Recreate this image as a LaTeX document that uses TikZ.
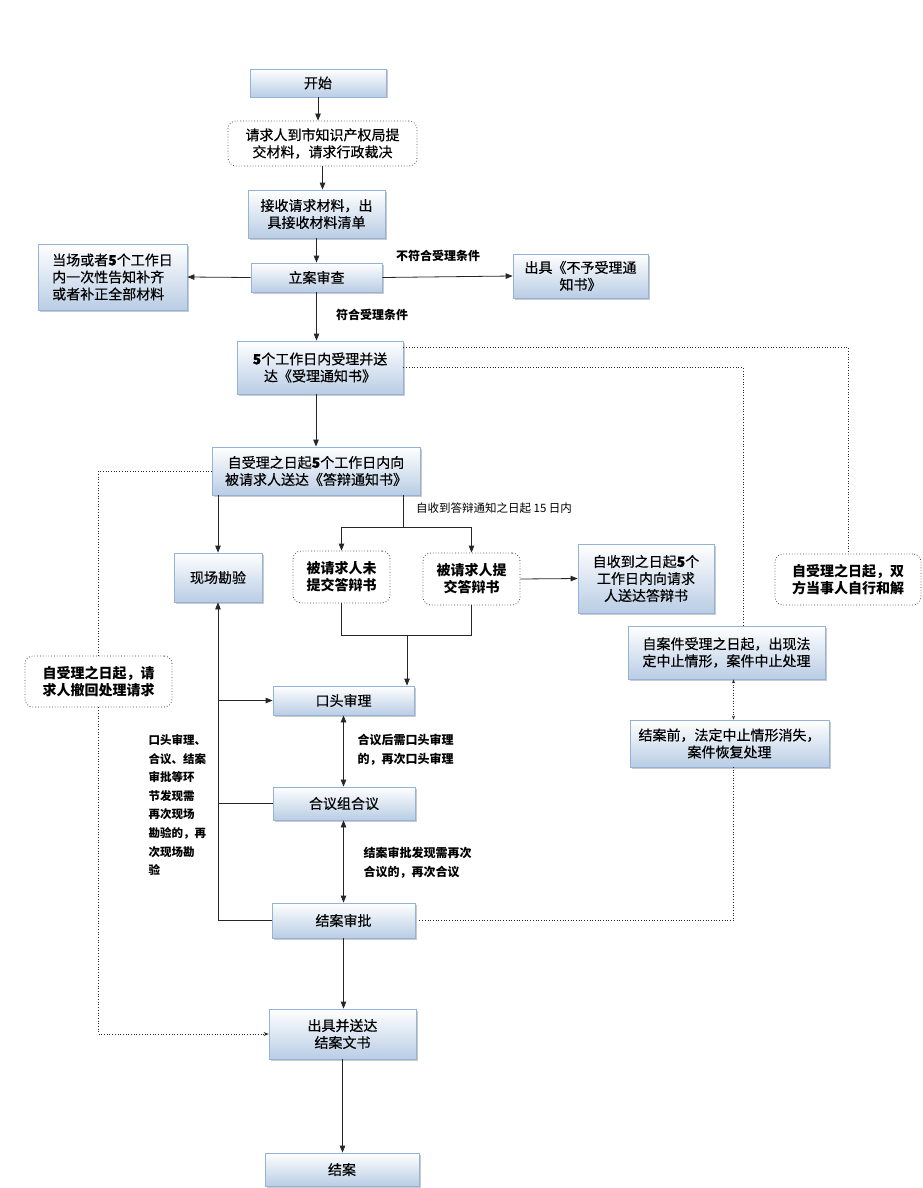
\documentclass[tikz,border=0pt]{standalone}
\usepackage{fontspec}
\setmainfont{Noto Sans CJK SC}
\newfontfamily\boxfam{Noto Sans CJK SC}[FakeBold=0.4]
\usetikzlibrary{shadows,arrows.meta}

\definecolor{boxBlue}{HTML}{B9CDE5}
\definecolor{boxEdge}{HTML}{95B3D7}

\begin{document}
\begin{tikzpicture}[
    x=1pt, y=-1pt,
    box/.style={draw=boxEdge, line width=0.8pt, top color=white,
                bottom color=boxBlue, align=center, inner sep=2pt,
                font=\boxfam\fontsize{14}{17}\selectfont,
                drop shadow={shadow xshift=1.5pt, shadow yshift=-1.5pt,
                             fill=black!35, opacity=0.6}},
    note/.style={draw=black!70, dotted, line width=0.8pt, rounded corners=8pt,
                 fill=white, align=center, inner sep=2pt,
                 font=\boxfam\fontsize{14}{17}\selectfont},
    arr/.style={->, >={Triangle[length=7pt, width=5.5pt]}, line width=0.8pt, black!85},
    dots/.style={dotted, line width=0.7pt, black!85},
    lbl/.style={font=\fontsize{12}{18.5}\selectfont\bfseries, align=left},
]
\useasboundingbox (0,0) rectangle (923,1188);

% --- main column, top ---
\node[box, minimum width=136pt, minimum height=28pt]
    (start) at (318,83) {开始};
\node[note, minimum width=189pt, minimum height=45pt]
    (req) at (322.5,143.5) {请求人到市知识产权局提\\交材料，请求行政裁决};
\node[box, minimum width=137pt, minimum height=48pt]
    (recv) at (316.5,214) {接收请求材料，出\\具接收材料清单};
\node[box, minimum width=131pt, minimum height=29pt]
    (check) at (316.5,277.5) {立案审查};
\node[box, minimum width=149pt, minimum height=66pt, align=left]
    (notify) at (112.5,277) {当场或者\textbf{5}个工作日\\内一次性告知补齐\\或者补正全部材料};
\node[box, minimum width=135pt, minimum height=44pt]
    (reject) at (580.5,276) {出具《不予受理通\\知书》};
\node[box, minimum width=166pt, minimum height=53pt]
    (accept) at (320,367.5) {\textbf{5}个工作日内受理并送\\达《受理通知书》};
\node[box, minimum width=208pt, minimum height=48pt]
    (reply) at (316,471) {自受理之日起\textbf{5}个工作日内向\\被请求人送达《答辩通知书》};

\draw[arr] (start.south) -- (start.south |- req.north);
\draw[arr] (req.south) -- (req.south |- recv.north);
\draw[arr] (recv.south) -- (recv.south |- check.north);
\draw[arr] (check.west) -- (notify.east);
\draw[arr] (check.east) -- (reject.west);
\draw[arr] (check.south) -- (check.south |- accept.north);
\draw[arr] (reply.north |- accept.south) -- (reply.north);

\node[lbl] (nocond) at (438,256) {不符合受理条件};
\node[lbl] (cond) at (372,315) {符合受理条件};

% --- reply stage ---
\node[box, minimum width=88pt, minimum height=49pt]
    (survey) at (218,577.5) {现场勘验};
\node[note, minimum width=97pt, minimum height=52pt, font=\fontsize{14}{17}\selectfont\bfseries]
    (nosub) at (341.5,577) {被请求人未\\提交答辩书};
\node[note, minimum width=97pt, minimum height=52pt, font=\fontsize{14}{17}\selectfont\bfseries]
    (sub) at (471.5,579) {被请求人提\\交答辩书};
\node[box, minimum width=136pt, minimum height=69pt]
    (send) at (646,578.5) {自收到之日起\textbf{5}个\\工作日内向请求\\人送达答辩书};

\node[font=\fontsize{11.5}{14}\selectfont] (days) at (494,508) {自收到答辩通知之日起 15 日内};

\coordinate (split) at (403,527);
\coordinate (join) at (407,635);
\draw[line width=0.8pt, black!85] (reply.south -| split) -- (split);
\draw[arr] (split) -| (nosub.north);
\draw[arr] (split) -| (sub.north);
\draw[arr] (reply.south -| survey.north) -- (survey.north);
\draw[arr] (sub.east) -- (send.west);

% --- hearing and approval ---
\node[box, minimum width=141pt, minimum height=29pt]
    (hearing) at (343.5,700.5) {口头审理};
\node[box, minimum width=142pt, minimum height=33pt]
    (panel) at (344,803.5) {合议组合议};
\node[box, minimum width=143pt, minimum height=35pt]
    (approve) at (343.5,920.5) {结案审批};
\node[box, minimum width=147pt, minimum height=50pt]
    (issue) at (342.5,1034) {出具并送达\\结案文书};
\node[box, minimum width=154pt, minimum height=33pt]
    (close) at (342,1169.5) {结案};

\draw[line width=0.8pt, black!85] (nosub.south) |- (join);
\draw[line width=0.8pt, black!85] (sub.south) |- (join);
\draw[arr] (join) -- (join |- hearing.north);

\draw[arr] (approve.west) -| (survey.south);
\draw[arr] (survey.south |- hearing.west) -- (hearing.west);
\draw[line width=0.8pt, black!85] (survey.south |- panel.west) -- (panel.west);

\draw[arr, <->] (hearing.south) -- (hearing.south |- panel.north);
\draw[arr, <->] (approve.north |- panel.south) -- (approve.north);
\draw[arr] (approve.south) -- (approve.south |- issue.north);
\draw[arr] (issue.south) -- (issue.south |- close.north);

\node[lbl, anchor=north west] (rehear) at (354,731)
    {合议后需口头审理\\的，再次口头审理};
\node[lbl, anchor=north west] (repanel) at (360,844)
    {结案审批发现需再次\\合议的，再次合议};
\node[lbl, anchor=north west, font=\fontsize{11.5}{18.6}\selectfont\bfseries]
    (resurvey) at (145,731)
    {口头审理、\\合议、结案\\审批等环\\节发现需\\再次现场\\勘验的，再\\次现场勘\\验};

% --- side branches (dotted) ---
\node[note, minimum width=146pt, minimum height=51pt, font=\fontsize{14}{17}\selectfont\bfseries]
    (settle) at (848,579.5) {自受理之日起，双\\方当事人自行和解};
\node[box, minimum width=197pt, minimum height=53pt]
    (suspend) at (726.5,652.5) {自案件受理之日起，出现法\\定中止情形，案件中止处理};
\node[box, minimum width=199pt, minimum height=47pt]
    (resume) at (729.5,743.5) {结案前，法定中止情形消失，\\案件恢复处理};
\node[note, minimum width=147pt, minimum height=51pt, font=\fontsize{14}{17}\selectfont\bfseries]
    (withdraw) at (98.5,681.5) {自受理之日起，请\\求人撤回处理请求};

\draw[dots] ([yshift=20pt]accept.east) -| (settle.north);
\draw[dots] (accept.east) -| ([xshift=16.5pt]suspend.north);
\draw[dots, <->, >={Stealth[length=4pt, width=3pt]}] ([xshift=7pt]suspend.south) -- ([xshift=7pt]suspend.south |- resume.north);
\draw[dots] ([xshift=4pt]approve.east) -| ([xshift=4pt]resume.south);
\draw[dots] (reply.west) -| (withdraw.north);
\draw[dots, ->, >={Stealth[length=5pt, width=4pt]}] (withdraw.south) |- (issue.west);

\end{tikzpicture}
\end{document}
